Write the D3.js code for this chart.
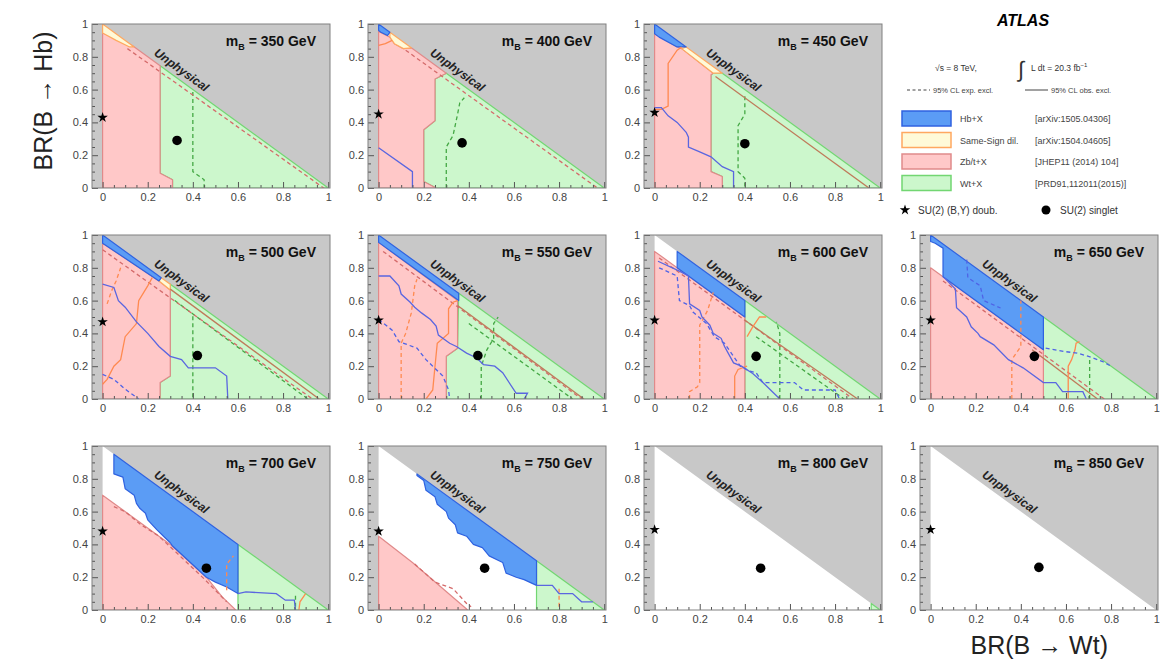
<!DOCTYPE html>
<html>
<head>
<meta charset="utf-8">
<script src="https://cdn.jsdelivr.net/npm/d3@7"></script>
<style>
  body { margin: 0; background: #fff; }
  svg { display: block; font-family: "Liberation Sans", Arial, sans-serif; }
  .tick text { font-size: 11px; fill: #444; }
  .tick line { stroke: #555; }
</style>
</head>
<body>
<svg id="chart" width="1176" height="667"></svg>
<script>
// vector-like quark B: excluded regions in the BR(Wt) / BR(Hb) plane, one panel per mass
var masses = [350, 400, 450, 500, 550, 600, 650, 700, 750, 800, 850]

// benchmark points: SU(2) (B,Y) doublet sits on BR(Wt)=0, singlet in the middle
var doubletHb = [0.43, 0.45, 0.46, 0.47, 0.48, 0.48, 0.48, 0.48, 0.48, 0.49, 0.49]
var singletWt = [0.33, 0.37, 0.40, 0.42, 0.44, 0.45, 0.46, 0.46, 0.47, 0.47, 0.48]
var singletHb = [0.29, 0.275, 0.27, 0.265, 0.265, 0.26, 0.26, 0.255, 0.255, 0.255, 0.26]

// excluded areas, [BR(Wt), BR(Hb)] vertices
var wtFill = [
  [[0.255,0.745],[1,0],[0.31,0],[0.31,0.05],[0.255,0.09]],
  [[0.3,0.7],[1,0],[0.255,0],[0.2,0.04],[0.2,0.355],[0.25,0.41],[0.25,0.665]],
  [[0.26,0.7],[0.3,0.7],[1,0],[0.3,0],[0.3,0.07],[0.25,0.1],[0.25,0.69]],
  [[0.3,0.7],[1,0],[0.255,0],[0.255,0.1],[0.3,0.14]],
  [[0.355,0.645],[1,0],[0.3,0],[0.3,0.26],[0.35,0.31]],
  [[0.4,0.6],[1,0],[0.4,0]],
  [[0.5,0.5],[1,0],[0.5,0]],
  [[0.6,0.4],[1,0],[0.6,0]],
  [[0.7,0.3],[1,0],[0.7,0]],
  [[0.96,0.04],[1,0],[0.96,0]],
  null
]
var zbFill = [
  [[0,0],[0,0.945],[0.13,0.87],[0.255,0.745],[0.255,0.09],[0.31,0.05],[0.31,0]],
  [[0,0],[0,0.955],[0.05,0.92],[0.07,0.88],[0.11,0.85],[0.145,0.855],[0.3,0.7],[0.25,0.665],[0.25,0.41],[0.2,0.355],[0.2,0.04],[0.255,0]],
  [[0,0],[0,0.94],[0.1,0.86],[0.12,0.85],[0.26,0.7],[0.25,0.69],[0.25,0.1],[0.3,0.07],[0.3,0]],
  [[0,0],[0,0.95],[0.25,0.72],[0.3,0.665],[0.3,0.14],[0.255,0.1],[0.255,0]],
  [[0,0],[0,0.955],[0.35,0.6],[0.35,0.31],[0.3,0.26],[0.3,0]],
  [[0,0],[0,0.9],[0.4,0.5],[0.4,0]],
  [[0,0],[0,0.8],[0.5,0.3],[0.5,0]],
  [[0,0],[0,0.7],[0.3,0.4],[0.46,0.2],[0.53,0.08],[0.59,0]],
  [[0,0],[0,0.45],[0.15,0.29],[0.395,0]],
  null,
  null
]
var ssFill = [
  [[0,1],[0.14,0.86],[0.12,0.86],[0.06,0.9],[0,0.945]],
  [[0.05,0.95],[0.145,0.855],[0.11,0.85],[0.07,0.88],[0.05,0.92]],
  [[0.14,0.86],[0.3,0.7],[0.26,0.7],[0.12,0.85]],
  [[0.26,0.74],[0.3,0.7],[0.3,0.665],[0.25,0.72]],
  null, null, null, null, null, null, null
]
var hbFill = [
  null,
  [[0,1],[0.05,0.95],[0.04,0.93],[0.01,0.95],[0,0.96]],
  [[0,1],[0.14,0.86],[0.1,0.86],[0.02,0.92],[0,0.94]],
  [[0,1],[0.26,0.74],[0.25,0.72],[0,0.95]],
  [[0,1],[0.355,0.645],[0.355,0.6],[0,0.955]],
  [[0.1,0.9],[0.4,0.6],[0.4,0.5],[0.1,0.8]],
  [[0,1],[0.5,0.5],[0.5,0.3],[0.055,0.745],[0.055,0.92],[0.02,0.95],[0,0.96]],
  [[0.05,0.95],[0.6,0.4],[0.6,0.1],[0.55,0.14],[0.5,0.17],[0.46,0.2],[0.31,0.39],[0.3,0.41],[0.27,0.45],[0.24,0.49],[0.2,0.55],[0.19,0.59],[0.165,0.62],[0.15,0.65],[0.14,0.7],[0.1,0.74],[0.09,0.81],[0.05,0.83]],
  [[0.17,0.83],[0.7,0.3],[0.7,0.15],[0.645,0.185],[0.61,0.2],[0.565,0.225],[0.55,0.29],[0.49,0.33],[0.46,0.38],[0.42,0.4],[0.39,0.45],[0.35,0.47],[0.34,0.52],[0.31,0.56],[0.3,0.6],[0.26,0.645],[0.25,0.69],[0.21,0.73],[0.2,0.79],[0.17,0.82]],
  null,
  null
]

// 95% CL contours (observed = solid, expected = dashed), list of polylines per panel
var hbObs = [
  [],
  [[[0,0.245],[0.15,0.1],[0.15,0]]],
  [[[0,0.49],[0.03,0.49],[0.06,0.44],[0.1,0.4],[0.14,0.34],[0.15,0.31],[0.15,0.25],[0.2,0.22],[0.25,0.19],[0.3,0.13],[0.35,0.1],[0.35,0]]],
  [[[0,0.7],[0.05,0.68],[0.07,0.6],[0.1,0.56],[0.15,0.47],[0.2,0.4],[0.25,0.32],[0.3,0.26],[0.35,0.24],[0.38,0.19],[0.5,0.19],[0.55,0.14],[0.555,0]]],
  [[[0,0.75],[0.05,0.75],[0.09,0.69],[0.1,0.64],[0.14,0.59],[0.16,0.56],[0.19,0.525],[0.23,0.485],[0.255,0.445],[0.265,0.39],[0.315,0.34],[0.345,0.32],[0.39,0.28],[0.435,0.25],[0.465,0.21],[0.515,0.2],[0.55,0.16],[0.61,0.035],[0.66,0.035],[0.645,0]]],
  [[[0.015,0.84],[0.11,0.78],[0.15,0.75],[0.155,0.58],[0.2,0.54],[0.21,0.5],[0.245,0.45],[0.26,0.4],[0.295,0.37],[0.31,0.32],[0.35,0.22],[0.385,0.2],[0.435,0.155],[0.48,0.1],[0.555,0]]],
  [[[0.06,0.74],[0.11,0.67],[0.115,0.556],[0.16,0.5],[0.18,0.44],[0.21,0.4],[0.22,0.38],[0.28,0.33],[0.345,0.24],[0.41,0.19],[0.5,0.1],[0.555,0.1],[0.585,0.045],[0.675,0.045],[0.69,0]]],
  [[[0.6,0.1],[0.635,0.11],[0.77,0.1],[0.81,0.06],[0.85,0.06],[0.855,0]]],
  [[[0.7,0.15],[0.77,0.15],[0.8,0.1],[0.86,0.1],[0.9,0.05],[0.95,0.05]]],
  [], []
]
var hbExp = [
  [], [], [],
  [[[0,0.15],[0.05,0.12],[0.1,0.06],[0.16,0]]],
  [[[0,0.485],[0.06,0.42],[0.09,0.35],[0.17,0.31],[0.21,0.24],[0.255,0.18],[0.285,0.14],[0.31,0.055],[0.315,0]]],
  [[[0.02,0.8],[0.1,0.75],[0.11,0.6],[0.155,0.57],[0.17,0.53],[0.23,0.46],[0.265,0.38],[0.31,0.34],[0.38,0.2],[0.42,0.17],[0.45,0.16],[0.48,0.1],[0.62,0.1],[0.66,0.055],[0.8,0.055],[0.82,0]]],
  [[[0.16,0.85],[0.165,0.74],[0.22,0.69],[0.235,0.6],[0.31,0.555]], [[0.51,0.31],[0.59,0.29],[0.65,0.28],[0.7,0.26],[0.76,0.23],[0.8,0.2]]],
  [], [], [], []
]
var ssObs = [
  [],
  [[[0,0.87],[0.03,0.88],[0.06,0.9]]],
  [[[0.12,0.86],[0.1,0.84],[0.06,0.76],[0.06,0.5],[0.03,0.48],[0,0.48]]],
  [[[0,0.09],[0.02,0.12],[0.05,0.2],[0.08,0.24],[0.1,0.38],[0.15,0.46],[0.16,0.6],[0.2,0.69],[0.22,0.74]]],
  [[[0.21,0],[0.24,0.055],[0.25,0.2],[0.26,0.34],[0.31,0.4],[0.31,0.55],[0.33,0.59],[0.35,0.6]]],
  [[[0.355,0],[0.355,0.14],[0.37,0.18],[0.41,0.2]], [[0.41,0.38],[0.435,0.44],[0.465,0.5],[0.495,0.5]]],
  [[[0.61,0],[0.61,0.2],[0.625,0.24],[0.64,0.3],[0.645,0.34],[0.66,0.35]]],
  [[[0.87,0],[0.875,0.05],[0.9,0.1]]],
  [], [], []
]
var ssExp = [
  [], [], [],
  [[[0.02,0.58],[0.04,0.66],[0.06,0.72],[0.08,0.8]]],
  [[[0.1,0],[0.1,0.34],[0.12,0.4],[0.145,0.525],[0.16,0.69],[0.17,0.73]]],
  [[[0.155,0],[0.155,0.045],[0.19,0.075],[0.2,0.1],[0.2,0.45],[0.235,0.54],[0.26,0.65]]],
  [[[0.36,0],[0.36,0.24],[0.4,0.32],[0.4,0.6]]],
  [[[0.55,0.12],[0.55,0.28],[0.58,0.33]]],
  [[[0.8,0.02],[0.8,0.14]]],
  [], []
]
var zbObs = [
  [], [],
  [[[0.27,0.68],[0.95,0]]],
  [[[0.3,0.67],[0.96,0]]],
  [[[0.35,0.57],[0.91,0]]],
  [[[0.4,0.48],[0.9,0]]],
  [[[0.45,0.3],[0.74,0]]],
  [], [], [], []
]
var zbExp = [
  [[[0.11,0.85],[0.98,0]]],
  [[[0.12,0.84],[0.97,0]]],
  [],
  [[[0,0.91],[0.93,0]]],
  [[[0.02,0.9],[0.9,0]]],
  [[[0.02,0.86],[0.88,0]]],
  [[[0.055,0.72],[0.77,0]]],
  [[[0.05,0.63],[0.1,0.6],[0.17,0.52],[0.25,0.45],[0.35,0.32],[0.45,0.19],[0.5,0.12],[0.55,0.05]]],
  [[[0.16,0.28],[0.25,0.17],[0.33,0.13],[0.39,0.04],[0.41,0.02]]],
  [], []
]
var wtExp = [
  [[[0.4,0.585],[0.4,0.1],[0.45,0.05],[0.45,0]]],
  [[[0.3,0],[0.3,0.25],[0.33,0.32],[0.35,0.45],[0.36,0.52],[0.38,0.55]]],
  [[[0.4,0.56],[0.4,0.45],[0.37,0.38],[0.37,0.1],[0.4,0.06],[0.4,0]]],
  [[[0.4,0.505],[0.4,0]], [[0.32,0.6],[0.91,0]]],
  [[[0.455,0],[0.455,0.2],[0.48,0.3],[0.51,0.37],[0.51,0.46],[0.53,0.5]], [[0.4,0.46],[0.86,0]]],
  [[[0.555,0],[0.555,0.4],[0.54,0.47]], [[0.45,0.38],[0.84,0]]],
  [[[0.705,0],[0.705,0.24]]],
  [[[0.855,0.02],[0.855,0.1]]],
  [], [], []
]

var legendRows = [
  {name: "Hb+X", ref: "[arXiv:1505.04306]", fill: "#5b9cf5", stroke: "#2f62e0"},
  {name: "Same-Sign dil.", ref: "[arXiv:1504.04605]", fill: "#fffad8", stroke: "#ffa860"},
  {name: "Zb/t+X", ref: "[JHEP11 (2014) 104]", fill: "#ffc8c8", stroke: "#e08a8a"},
  {name: "Wt+X", ref: "[PRD91,112011(2015)]", fill: "#ccf7cc", stroke: "#72d672"}
]

var styles = {
  wt: {fill: "#ccf7cc", stroke: "#72d672"},
  zb: {fill: "#ffc8c8", stroke: "#e08a8a"},
  ss: {fill: "#fffad8", stroke: "#ffa860"},
  hb: {fill: "#5b9cf5", stroke: "#2f62e0"}
}

var svg = d3.select("#chart")

var panelW = 238, panelH = 164
var x = d3.scaleLinear().domain([-0.047, 1.008]).range([0, panelW])
var y = d3.scaleLinear().domain([0, 1]).range([panelH, 0])
var line = d3.line().x(function(d){ return x(d[0]) }).y(function(d){ return y(d[1]) })

var unphysical = [[-0.047,0],[0,0],[0,1],[1,0],[1.008,0],[1.008,1],[-0.047,1]]

masses.forEach(function(m, i) {
  var slot = i < 3 ? i : i + 1
  var col = slot % 4, row = Math.floor(slot / 4)
  var g = svg.append("g")
    .attr("transform", "translate(" + (92 + col*276) + "," + (24 + row*211) + ")")

  g.append("clipPath").attr("id", "clip" + i)
    .append("rect").attr("width", panelW).attr("height", panelH)

  var plot = g.append("g").attr("clip-path", "url(#clip" + i + ")")

  plot.append("path").attr("d", line(unphysical) + "Z").attr("fill", "#c8c8c8")

  var fills = [["wt", wtFill[i]], ["zb", zbFill[i]], ["ss", ssFill[i]], ["hb", hbFill[i]]]
  fills.forEach(function(f) {
    if (!f[1]) return
    plot.append("path")
      .attr("d", line(f[1]) + "Z")
      .attr("fill", styles[f[0]].fill)
      .attr("stroke", styles[f[0]].stroke)
      .attr("stroke-width", 1.2)
      .attr("stroke-linejoin", "round")
  })

  var contours = [
    [wtExp[i], "#44a844", true],
    [zbExp[i], "#d46a6a", true],
    [zbObs[i], "#bf7a5a", false],
    [ssExp[i], "#ff8a50", true],
    [ssObs[i], "#ff8a50", false],
    [hbExp[i], "#4f63e6", true],
    [hbObs[i], "#5a66e0", false]
  ]
  contours.forEach(function(c) {
    c[0].forEach(function(pts) {
      plot.append("path")
        .attr("d", line(pts))
        .attr("fill", "none")
        .attr("stroke", c[1])
        .attr("stroke-width", 1.3)
        .attr("stroke-dasharray", c[2] ? "4,3" : null)
    })
  })

  // axes, ROOT style: ticks point into the frame
  var major = [0, 0.2, 0.4, 0.6, 0.8, 1]
  var minor = d3.range(0, 1.0001, 0.05).filter(function(v){ return Math.abs(v*5 - Math.round(v*5)) > 1e-6 })
  var fmt = function(v){ return v === 0 ? "0" : v === 1 ? "1" : d3.format(".1f")(v) }

  g.append("g").attr("transform", "translate(0," + panelH + ")")
    .call(d3.axisBottom(x).tickValues(major).tickSize(-6).tickPadding(5).tickFormat(fmt))
    .call(function(a){ a.select(".domain").remove() })
  g.append("g").attr("transform", "translate(0," + panelH + ")")
    .call(d3.axisBottom(x).tickValues(minor).tickSize(-3).tickFormat(""))
    .call(function(a){ a.select(".domain").remove() })
  g.append("g")
    .call(d3.axisLeft(y).tickValues(major).tickSize(-6).tickPadding(4).tickFormat(fmt))
    .call(function(a){ a.select(".domain").remove() })
  g.append("g")
    .call(d3.axisLeft(y).tickValues(minor).tickSize(-3).tickFormat(""))
    .call(function(a){ a.select(".domain").remove() })

  g.append("rect").attr("width", panelW).attr("height", panelH)
    .attr("fill", "none").attr("stroke", "#808080").attr("stroke-width", 1)

  // benchmark points
  g.append("path")
    .attr("d", d3.symbol(d3.symbolStar, 34)())
    .attr("transform", "translate(" + x(0) + "," + y(doubletHb[i]) + ")")
    .attr("fill", "#000")
  g.append("circle")
    .attr("cx", x(singletWt[i])).attr("cy", y(singletHb[i])).attr("r", 4.8)
    .attr("fill", "#000")

  var lbl = g.append("text")
    .attr("x", panelW - 14).attr("y", 22)
    .attr("text-anchor", "end")
    .attr("font-size", 14).attr("font-weight", "bold").attr("fill", "#111")
  lbl.append("tspan").text("m")
  lbl.append("tspan").attr("font-size", 9).attr("dy", 4).text("B")
  lbl.append("tspan").attr("dy", -4).text(" = " + m + " GeV")

  var ang = Math.atan2(y(0) - y(1), x(1) - x(0)) * 180 / Math.PI
  g.append("text")
    .attr("transform", "translate(" + x(0.35) + "," + y(0.72) + ") rotate(" + ang + ")")
    .attr("text-anchor", "middle").attr("dy", "0.35em")
    .attr("font-size", 12).attr("font-weight", "bold").attr("font-style", "italic")
    .attr("fill", "#222")
    .text("Unphysical")
})

// axis titles
svg.append("text")
  .attr("transform", "translate(52,101) rotate(-90)")
  .attr("text-anchor", "middle")
  .attr("font-size", 25).attr("fill", "#222")
  .text("BR(B \u2192 Hb)")
svg.append("text")
  .attr("x", 1108).attr("y", 654)
  .attr("text-anchor", "end")
  .attr("font-size", 25).attr("fill", "#222")
  .text("BR(B \u2192 Wt)")

// legend block
var leg = svg.append("g")
leg.append("text").attr("x", 1023).attr("y", 26).attr("text-anchor", "middle")
  .attr("font-size", 16).attr("font-weight", "bold").attr("font-style", "italic")
  .text("ATLAS")
leg.append("text").attr("x", 935).attr("y", 71).attr("font-size", 8.5).attr("fill", "#333")
  .text("\u221As = 8 TeV,")
leg.append("text").attr("x", 1018).attr("y", 77).attr("font-size", 22).attr("fill", "#333")
  .text("\u222B")
leg.append("text").attr("x", 1031).attr("y", 71).attr("font-size", 8.5).attr("fill", "#333")
  .text("L dt = 20.3 fb")
  .append("tspan").attr("font-size", 6).attr("dy", -4).text("\u22121")

leg.append("line").attr("x1", 907).attr("x2", 930).attr("y1", 90).attr("y2", 90)
  .attr("stroke", "#444").attr("stroke-dasharray", "3,2.5")
leg.append("text").attr("x", 933).attr("y", 93).attr("font-size", 7.5).attr("fill", "#444")
  .text("95% CL exp. excl.")
leg.append("line").attr("x1", 1025).attr("x2", 1048).attr("y1", 90).attr("y2", 90)
  .attr("stroke", "#444")
leg.append("text").attr("x", 1051).attr("y", 93).attr("font-size", 7.5).attr("fill", "#444")
  .text("95% CL obs. excl.")

legendRows.forEach(function(r, k) {
  var top = 111 + k*21.5
  leg.append("rect").attr("x", 902).attr("y", top).attr("width", 49).attr("height", 15)
    .attr("fill", r.fill).attr("stroke", r.stroke).attr("stroke-width", 1.5)
  leg.append("text").attr("x", 960).attr("y", top + 11).attr("font-size", 9).attr("fill", "#444")
    .text(r.name)
  leg.append("text").attr("x", 1035).attr("y", top + 11).attr("font-size", 9).attr("fill", "#444")
    .text(r.ref)
})

leg.append("path").attr("d", d3.symbol(d3.symbolStar, 34)())
  .attr("transform", "translate(905,210)").attr("fill", "#000")
leg.append("text").attr("x", 918).attr("y", 214).attr("font-size", 10).attr("fill", "#333")
  .text("SU(2) (B,Y) doub.")
leg.append("circle").attr("cx", 1046).attr("cy", 210).attr("r", 4.5).attr("fill", "#000")
leg.append("text").attr("x", 1060).attr("y", 214).attr("font-size", 10).attr("fill", "#333")
  .text("SU(2) singlet")
</script>
</body>
</html>
